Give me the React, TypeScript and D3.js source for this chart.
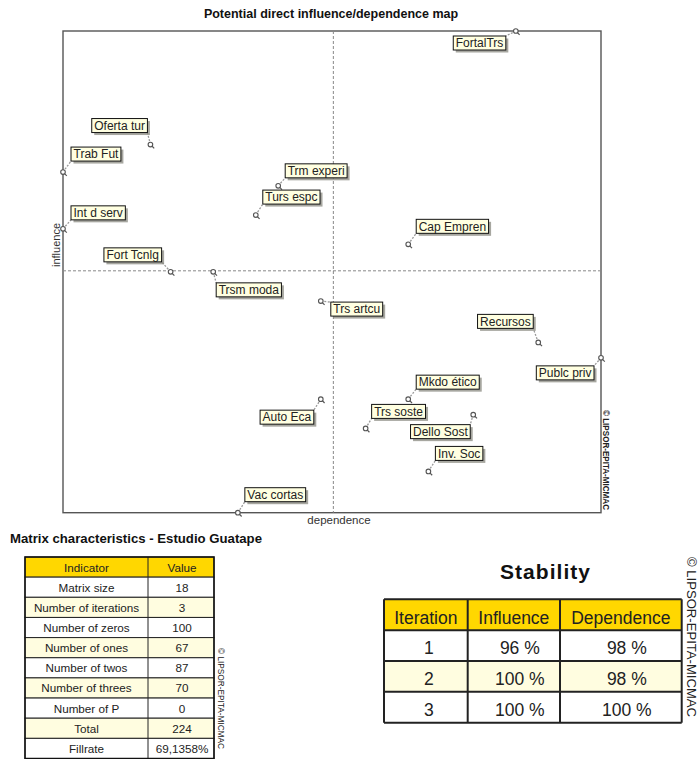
import React, { useMemo } from "react";
import * as d3 from "d3";

// ---------- Map data ----------
const variables = [
  "FortalTrs", "Oferta tur", "Trab Fut", "Trm experi", "Turs espc", "Int d serv",
  "Fort Tcnlg", "Trsm moda", "Trs artcu", "Cap Empren", "Recursos", "Publc priv",
  "Mkdo ético", "Trs soste", "Dello Sost", "Inv. Soc", "Auto Eca", "Vac cortas",
];
const dependence = [33.2, 16.9, 13, 22.6, 21.6, 13, 17.8, 19.7, 24.5, 28.4, 34.2, 37, 28.4, 26.5, 31.3, 29.3, 24.5, 20.8];
const influence = [39, 32.4, 30.8, 30.0, 28.3, 27.5, 25.0, 25.0, 23.3, 26.6, 20.9, 20.0, 17.6, 15.9, 16.7, 13.4, 17.6, 11.0];
const meanValue = 25.06;

// label side relative to point (layout only)
const labelSide = ["sw", "nw", "ne", "ne", "ne", "ne", "nw", "se", "se", "ne", "nw", "sw", "ne", "ne", "sw", "ne", "sw", "ne"];
const labelGap: [number, number][] = [
  [10, 5], [3, 12], [8, 11], [7, 8], [7, 11], [8, 9], [9, 10], [3, 11], [10, 1],
  [8, 11], [5, 14], [7, 8], [8, 10], [6, 10], [3, 10], [7, 11], [7, 11], [7, 11],
];

// ---------- Matrix characteristics ----------
const indicatorNames = [
  "Matrix size", "Number of iterations", "Number of zeros", "Number of ones",
  "Number of twos", "Number of threes", "Number of P", "Total", "Fillrate",
];
const indicatorValues = ["18", "3", "100", "67", "87", "70", "0", "224", "69,1358%"];

// ---------- Stability ----------
const stabilityHeaders = ["Iteration", "Influence", "Dependence"];
const stabilityIterations = [1, 2, 3];
const stabilityInfluence = [96, 100, 100];
const stabilityDependence = [98, 98, 100];

const FONT = "'Liberation Sans', Arial, Helvetica, sans-serif";
const GOLD = "#FFD700";
const PALE = "#FFFDE0";

function measure(text: string, font: string): number {
  const c = document.createElement("canvas").getContext("2d");
  if (!c) return text.length * 6;
  c.font = font;
  return c.measureText(text).width;
}

export default function App() {
  const W = 698, H = 759;
  const plot = { left: 63, top: 31, right: 601, bottom: 512.7 };
  const x = d3.scaleLinear().domain(d3.extent(dependence) as [number, number]).range([plot.left, plot.right]);
  const y = d3.scaleLinear().domain(d3.extent(influence) as [number, number]).range([plot.bottom, plot.top]);

  const labels = useMemo(() => variables.map((name, i) => {
    const px = x(dependence[i]);
    const py = y(influence[i]);
    const tw = measure(name, `12px ${FONT}`);
    const bw = tw + 5;
    const bh = 14;
    const [gx, gy] = labelGap[i];
    const side = labelSide[i];
    let left = 0, top = 0, cx = 0, cy = 0;
    if (side === "ne") { left = px + gx; top = py - gy - bh; cx = left; cy = top + bh; }
    if (side === "nw") { left = px - gx - bw; top = py - gy - bh; cx = left + bw; cy = top + bh; }
    if (side === "se") { left = px + gx; top = py + gy; cx = left; cy = top; }
    if (side === "sw") { left = px - gx - bw; top = py + gy; cx = left + bw; cy = top; }
    return { name, px, py, left, top, bw, bh, cx, cy };
  }), []);

  // table 1 geometry
  const t1 = { left: 25, right: 214, split: 148, top: 557, rowH: 20.15 };
  const t1Rows = [["Indicator", "Value"], ...indicatorNames.map((n, i) => [n, indicatorValues[i]])];
  // table 2 geometry
  const t2 = { left: 384, right: 681.7, cols: [384, 467.7, 560, 681.7], top: 599.3, rowH: 30.85 };
  const t2Rows = [
    stabilityHeaders,
    ...stabilityIterations.map((it, i) => [String(it), `${stabilityInfluence[i]} %`, `${stabilityDependence[i]} %`]),
  ];

  return (
    <svg width={W} height={H} style={{ position: "absolute", left: 0, top: 0, display: "block", background: "#fff" }}
      fontFamily={FONT}>
      <rect x={0} y={0} width={W} height={H} fill="#fff" />
      {/* Map title */}
      <text x={331} y={17.5} textAnchor="middle" fontWeight="bold" fontSize={12.5} fill="#111">
        Potential direct influence/dependence map
      </text>
      {/* frame */}
      <rect x={plot.left} y={plot.top} width={plot.right - plot.left} height={plot.bottom - plot.top}
        fill="none" stroke="#555" strokeWidth={1.4} />
      {/* mean lines */}
      <line x1={x(meanValue)} x2={x(meanValue)} y1={plot.top} y2={plot.bottom} stroke="#888" strokeDasharray="3,2" strokeWidth={1} />
      <line x1={plot.left} x2={plot.right} y1={y(meanValue)} y2={y(meanValue)} stroke="#888" strokeDasharray="3,2" strokeWidth={1} />
      {/* axis titles */}
      <text transform={`translate(59.5,245) rotate(-90)`} textAnchor="middle" fontSize={11} fill="#333">influence</text>
      <text x={339} y={523.5} textAnchor="middle" fontSize={11.5} fill="#333">dependence</text>
      {/* copyright map */}
      <text transform="translate(603,410) rotate(90)" fontSize={8.5} fontWeight="bold" fill="#222" textLength={100} lengthAdjust="spacingAndGlyphs">
        © LIPSOR-EPITA-MICMAC
      </text>

      {/* connectors + markers */}
      {labels.map((l) => (
        <g key={"c" + l.name}>
          <line x1={l.px} y1={l.py} x2={l.cx} y2={l.cy} stroke="#999" strokeWidth={1.3} strokeDasharray="2,1.5" />
          <line x1={l.px + 1.5} y1={l.py + 1.5} x2={l.px + 3.8} y2={l.py + 3.8} stroke="#555" strokeWidth={1.2} />
          <circle cx={l.px} cy={l.py} r={2.3} fill="#fff" stroke="#555" strokeWidth={1.1} />
        </g>
      ))}
      {/* labels */}
      {labels.map((l) => (
        <g key={"l" + l.name}>
          <rect x={l.left + 2.5} y={l.top + 2.5} width={l.bw} height={l.bh} fill="#8a8a80" opacity={0.75} />
          <rect x={l.left} y={l.top} width={l.bw} height={l.bh} fill="#FFFFE1" stroke="#111" strokeWidth={1} />
          <text x={l.left + 2.5} y={l.top + 11.2} fontSize={12} fill="#222">{l.name}</text>
        </g>
      ))}

      {/* Matrix characteristics */}
      <text x={10} y={543} fontSize={13} fontWeight="bold" fill="#111" textLength={252} lengthAdjust="spacingAndGlyphs">
        Matrix characteristics - Estudio Guatape
      </text>
      {t1Rows.map((r, i) => {
        const top = t1.top + i * t1.rowH;
        const fill = i === 0 ? GOLD : i % 2 === 0 ? PALE : "#fff";
        return (
          <g key={"t1" + i}>
            <rect x={t1.left} y={top} width={t1.right - t1.left} height={t1.rowH} fill={fill} stroke="#222" strokeWidth={1} />
            <line x1={t1.split} x2={t1.split} y1={top} y2={top + t1.rowH} stroke="#222" strokeWidth={1} />
            <text x={(t1.left + t1.split) / 2} y={top + 14.5} textAnchor="middle" fontSize={11.7} fill="#222">{r[0]}</text>
            <text x={(t1.split + t1.right) / 2 + 1} y={top + 14.5} textAnchor="middle" fontSize={11.7} fill="#222">{r[1]}</text>
          </g>
        );
      })}
      <rect x={t1.left} y={t1.top} width={t1.right - t1.left} height={t1.rowH * t1Rows.length} fill="none" stroke="#111" strokeWidth={1.5} />
      <text transform="translate(218,648) rotate(90)" fontSize={8.5} fill="#222" textLength={101} lengthAdjust="spacingAndGlyphs">
        © LIPSOR-EPITA-MICMAC
      </text>

      {/* Stability */}
      <text x={545} y={578.5} textAnchor="middle" fontSize={21} fontWeight="bold" fill="#111" textLength={90} lengthAdjust="spacing">
        Stability
      </text>
      {t2Rows.map((r, i) => {
        const top = t2.top + i * t2.rowH;
        const fill = i === 0 ? GOLD : i % 2 === 0 ? PALE : "#fff";
        return (
          <g key={"t2" + i}>
            <rect x={t2.left} y={top} width={t2.right - t2.left} height={t2.rowH} fill={fill} />
            {r.map((c, j) => (
              <text key={j} x={(t2.cols[j] + t2.cols[j + 1]) / 2 + (i === 0 ? 0 : j === 0 ? 3 : 6)} y={top + 24.3}
                textAnchor="middle" fontSize={17.5} fill="#222">{c}</text>
            ))}
          </g>
        );
      })}
      {t2Rows.map((_, i) => (
        <line key={"h" + i} x1={t2.left} x2={t2.right} y1={t2.top + i * t2.rowH} y2={t2.top + i * t2.rowH} stroke="#222" strokeWidth={2} />
      ))}
      <line x1={t2.left} x2={t2.right} y1={t2.top + 4 * t2.rowH} y2={t2.top + 4 * t2.rowH} stroke="#222" strokeWidth={2} />
      {t2.cols.map((cx, j) => (
        <line key={"v" + j} x1={cx} x2={cx} y1={t2.top} y2={t2.top + 4 * t2.rowH} stroke="#222" strokeWidth={2} />
      ))}
      <text transform="translate(687,557) rotate(90)" fontSize={12.5} fill="#222" textLength={160} lengthAdjust="spacingAndGlyphs">
        © LIPSOR-EPITA-MICMAC
      </text>
    </svg>
  );
}
